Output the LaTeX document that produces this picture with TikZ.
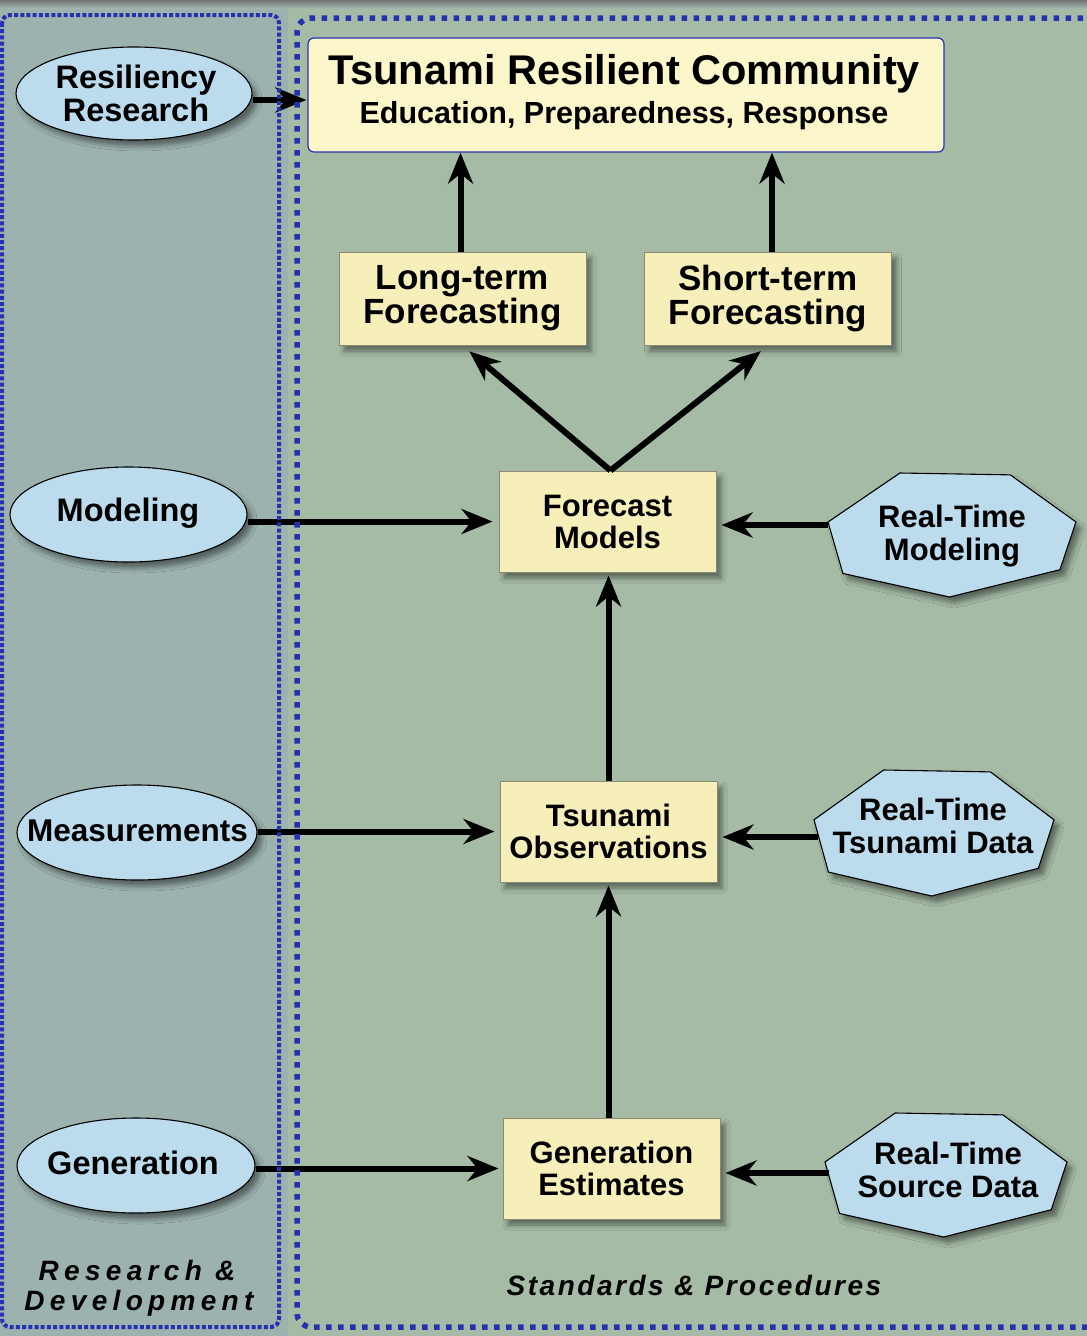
\documentclass[tikz,border=0pt]{standalone}
\usepackage{fontspec}
\setmainfont{Liberation Sans}
\usetikzlibrary{arrows.meta,shadows,shadows.blur,calc,shapes.geometric}
\definecolor{leftbg}{HTML}{9CB2AE}
\definecolor{rightbg}{HTML}{A6BBA6}
\definecolor{boxfill}{HTML}{F7EFBA}
\definecolor{titlefill}{HTML}{FCF7CB}
\definecolor{boxborder}{HTML}{8C8A70}
\definecolor{ellfill}{HTML}{BCDCEE}
\definecolor{dotblue}{HTML}{2531AE}
\newcommand\hexdraw[4]{%
  \draw[hexst] ({#1-0.42*#3},{#2-#4}) -- ({#1+0.47*#3},{#2-0.97*#4}) -- ({#1+#3},{#2-0.21*#4})
    -- ({#1+0.87*#3},{#2+0.56*#4}) -- ({#1-0.02*#3},{#2+#4}) -- ({#1-0.88*#3},{#2+0.62*#4})
    -- ({#1-#3},{#2-0.21*#4}) -- cycle;}
\begin{document}
\begin{tikzpicture}[x=1pt,y=-1pt,
  shad/.style={blur shadow={shadow xshift=5pt,shadow yshift=-6pt,shadow blur radius=5pt,shadow opacity=45}},
  boxst/.style={draw=boxborder,line width=1pt,fill=boxfill,minimum width=217pt,minimum height=101pt,
     inner sep=0pt,align=center,font=\bfseries\fontsize{31}{32}\selectfont,shad},
  fcbox/.style={boxst,minimum width=247pt,minimum height=93pt,font=\bfseries\fontsize{35}{34}\selectfont},
  ellst/.style={ellipse,draw=black,line width=1.1pt,fill=ellfill,inner sep=0pt,shad},
  elltxt/.style={align=center,inner sep=0pt,font=\bfseries\fontsize{32.5}{33}\selectfont},
  hexst/.style={draw=black,line width=1.1pt,fill=ellfill,line join=miter,shad},
  hextxt/.style={align=center,inner sep=0pt,font=\bfseries\fontsize{31}{33}\selectfont},
  arr/.style={line width=6pt,-{Stealth[length=31pt,width=25pt,inset=10pt]}},
  leftdots/.style={draw=dotblue,line width=4pt,dash pattern=on 4pt off 2.2pt,rounded corners=8pt},
  rightdash/.style={draw=dotblue,line width=5.5pt,dash pattern=on 5.5pt off 6.5pt,rounded corners=14pt},
]
\useasboundingbox (0,0) rectangle (1087,1336);
% backgrounds
\fill[rightbg] (0,0) rectangle (1087,1336);
\fill[leftbg] (0,0) rectangle (288,1336);
\shade[top color=black!55,bottom color=leftbg!60!rightbg] (0,0) rectangle (1087,8);

% title box
\node[draw=dotblue,line width=1.2pt,fill=titlefill,rounded corners=6pt,minimum width=636pt,minimum height=114pt,inner sep=0pt] (trc) at (626,95) {};
\node[anchor=base,inner sep=0pt,font=\bfseries\fontsize{41.5}{42}\selectfont] (trc1) at (624,84) {Tsunami Resilient Community};
\node[anchor=base,inner sep=0pt,font=\bfseries\fontsize{30.5}{31}\selectfont] (trc2) at (624,123) {Education, Preparedness, Response};

% forecasting boxes
\node[fcbox] (lt) at (462.5,298.5) {Long-term\\Forecasting};
\node[fcbox] (st) at (768,298.5) {Short-term\\Forecasting};

% central boxes
\node[boxst] (fm) at (607.5,521.5) {Forecast\\Models};
\node[boxst] (to) at (608.5,831.5) {Tsunami\\Observations};
\node[boxst] (ge) at (611.5,1168.5) {Generation\\Estimates};

% ellipses
\node[ellst,minimum width=236pt,minimum height=93pt] (rr) at (134,93.5) {};
\node[elltxt] (rrt) at (136,93) {Resiliency\\Research};
\node[ellst,minimum width=237pt,minimum height=95pt] (mo) at (128.5,514.5) {};
\node[elltxt] (mot) at (128,513) {Modeling};
\node[ellst,minimum width=240pt,minimum height=95pt] (me) at (137,832.5) {};
\node[elltxt,font=\bfseries\fontsize{31.5}{33}\selectfont] (met) at (137.5,831) {Measurements};
\node[ellst,minimum width=238pt,minimum height=95pt] (gn) at (136,1165.5) {};
\node[elltxt] (gnt) at (133,1163) {Generation};

% hexagons
\hexdraw{952}{535}{124}{62}
\node[hextxt] (rtm) at (952,536) {Real-Time\\Modeling};
\coordinate (rtmL) at (828,525);
\hexdraw{934}{833}{120}{63}
\node[hextxt] (rtt) at (933,826) {Real-Time\\Tsunami Data};
\coordinate (rttL) at (818,837);
\hexdraw{946}{1175}{121}{62}
\node[hextxt] (rts) at (948,1170) {Real-Time\\Source Data};
\coordinate (rtsL) at (829,1173);

% arrows
\coordinate (rrend) at ([yshift=-5pt]trc.west);
\draw[arr,shorten >=1pt] (rr.east |- rrend) -- (rrend);
\draw[arr] ([xshift=-2pt]lt.north) -- ([xshift=-2pt]lt.north |- trc.south);
\draw[arr] ([xshift=4pt]st.north) -- ([xshift=4pt]st.north |- trc.south);
\draw[arr,shorten >=9pt] ([xshift=3pt]fm.north) -- (lt.south);
\draw[arr,shorten >=9pt] ([xshift=3pt]fm.north) -- (st.south);
\draw[arr,shorten >=3pt] (to.north) -- (to.north |- fm.south);
\draw[arr,shorten >=3pt] (ge.north -| to.north) -- (to.south);
\draw[arr,shorten >=6pt] (mo.east |- fm.west) -- (fm.west);
\draw[arr,shorten >=5pt] (me.east |- to.west) -- (to.west);
\draw[arr,shorten >=4pt] (gn.east |- ge.west) -- (ge.west);
\draw[arr,shorten >=5pt] (rtmL) -- (rtmL -| fm.east);
\draw[arr,shorten >=5pt] (rttL) -- (rttL -| to.east);
\draw[arr,shorten >=5pt] (rtsL) -- (rtsL -| ge.east);

% panel borders
\draw[leftdots] (2,15) rectangle (279,1327);
\draw[rightdash] (1095,18) -- (297,18) -- (297,1327) -- (1095,1327);

% panel captions
\node[anchor=base,inner sep=0pt,font=\bfseries\itshape\fontsize{28}{28}\selectfont\addfontfeature{LetterSpace=19}] (rd1) at (137,1280) {Research \&};
\node[anchor=base,inner sep=0pt,font=\bfseries\itshape\fontsize{28}{28}\selectfont\addfontfeature{LetterSpace=19}] (rd2) at (139,1310) {Development};
\node[anchor=base,inner sep=0pt,font=\bfseries\itshape\fontsize{28}{28}\selectfont\addfontfeature{LetterSpace=9}] (sp) at (694,1295) {Standards \& Procedures};
\end{tikzpicture}
\end{document}
